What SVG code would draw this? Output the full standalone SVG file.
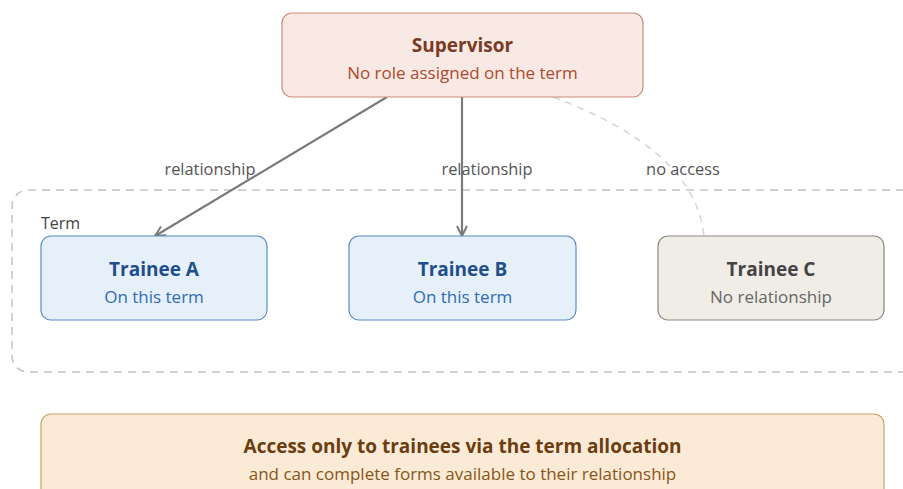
<svg xmlns="http://www.w3.org/2000/svg" width="903" height="489" viewBox="0 0 903 489">
<defs>
<style>
text{font-family:"Open Sans","Noto Sans","Liberation Sans",sans-serif;text-anchor:middle}
.t{font-size:19px;font-weight:700}
.s{font-size:17px}
.lbl{font-size:16.4px;fill:#555}
.edge{fill:none;stroke:#7a7a76;stroke-width:2.2}
</style>
<marker id="arr" viewBox="0 0 12 12" refX="11" refY="6" markerWidth="12" markerHeight="12" markerUnits="userSpaceOnUse" orient="auto">
<path d="M1,1 L11,6 L1,11" fill="none" stroke="#7a7a76" stroke-width="2"/>
</marker>
</defs>
<rect width="903" height="489" fill="#ffffff"/>
<g id="term">
<rect x="12" y="190" width="910" height="182" rx="16" fill="none" stroke="#c4c4c4" stroke-width="1.5" stroke-dasharray="8 6"/>
<text x="41" y="229" style="text-anchor:start;font-size:16px;fill:#444">Term</text>
</g>
<g id="connectors">
<path class="edge" d="M387,97 L155,236" marker-end="url(#arr)"/>
<path class="edge" d="M462,97 L462,236" marker-end="url(#arr)"/>
<path d="M553,97 Q695,150 704,236" fill="none" stroke="#d4d4d4" stroke-width="1.5" stroke-dasharray="7 6"/>
<text class="lbl" x="210" y="175">relationship</text>
<text class="lbl" x="487" y="175">relationship</text>
<text class="lbl" x="683" y="175">no access</text>
</g>
<g id="supervisor">
<rect x="282" y="13" width="361" height="84" rx="10" fill="#f9e9e4" stroke="#c98b78" stroke-width="1.2"/>
<text class="t" x="462.5" y="52" fill="#7a3b25">Supervisor</text>
<text class="s" x="462.5" y="79" fill="#b04a2e">No role assigned on the term</text>
</g>
<g id="traineeA">
<rect x="41" y="236" width="226" height="84" rx="10" fill="#e6f0fb" stroke="#5a8ccc" stroke-width="1.2"/>
<text class="t" x="154" y="276" fill="#1e4e8c">Trainee A</text>
<text class="s" x="154" y="303" fill="#2f6db5">On this term</text>
</g>
<g id="traineeB">
<rect x="349" y="236" width="227" height="84" rx="10" fill="#e6f0fb" stroke="#5a8ccc" stroke-width="1.2"/>
<text class="t" x="462.5" y="276" fill="#1e4e8c">Trainee B</text>
<text class="s" x="462.5" y="303" fill="#2f6db5">On this term</text>
</g>
<g id="traineeC">
<rect x="658" y="236" width="226" height="84" rx="10" fill="#f0ede6" stroke="#8a8880" stroke-width="1.2"/>
<text class="t" x="771" y="276" fill="#444">Trainee C</text>
<text class="s" x="771" y="303" fill="#666">No relationship</text>
</g>
<g id="summary">
<rect x="41" y="414" width="843" height="100" rx="10" fill="#fbebd6" stroke="#c9a46a" stroke-width="1.2"/>
<text class="t" x="462.5" y="453" fill="#6b3d10">Access only to trainees via the term allocation</text>
<text class="s" x="462.5" y="480" fill="#8a5418">and can complete forms available to their relationship</text>
</g>
</svg>
